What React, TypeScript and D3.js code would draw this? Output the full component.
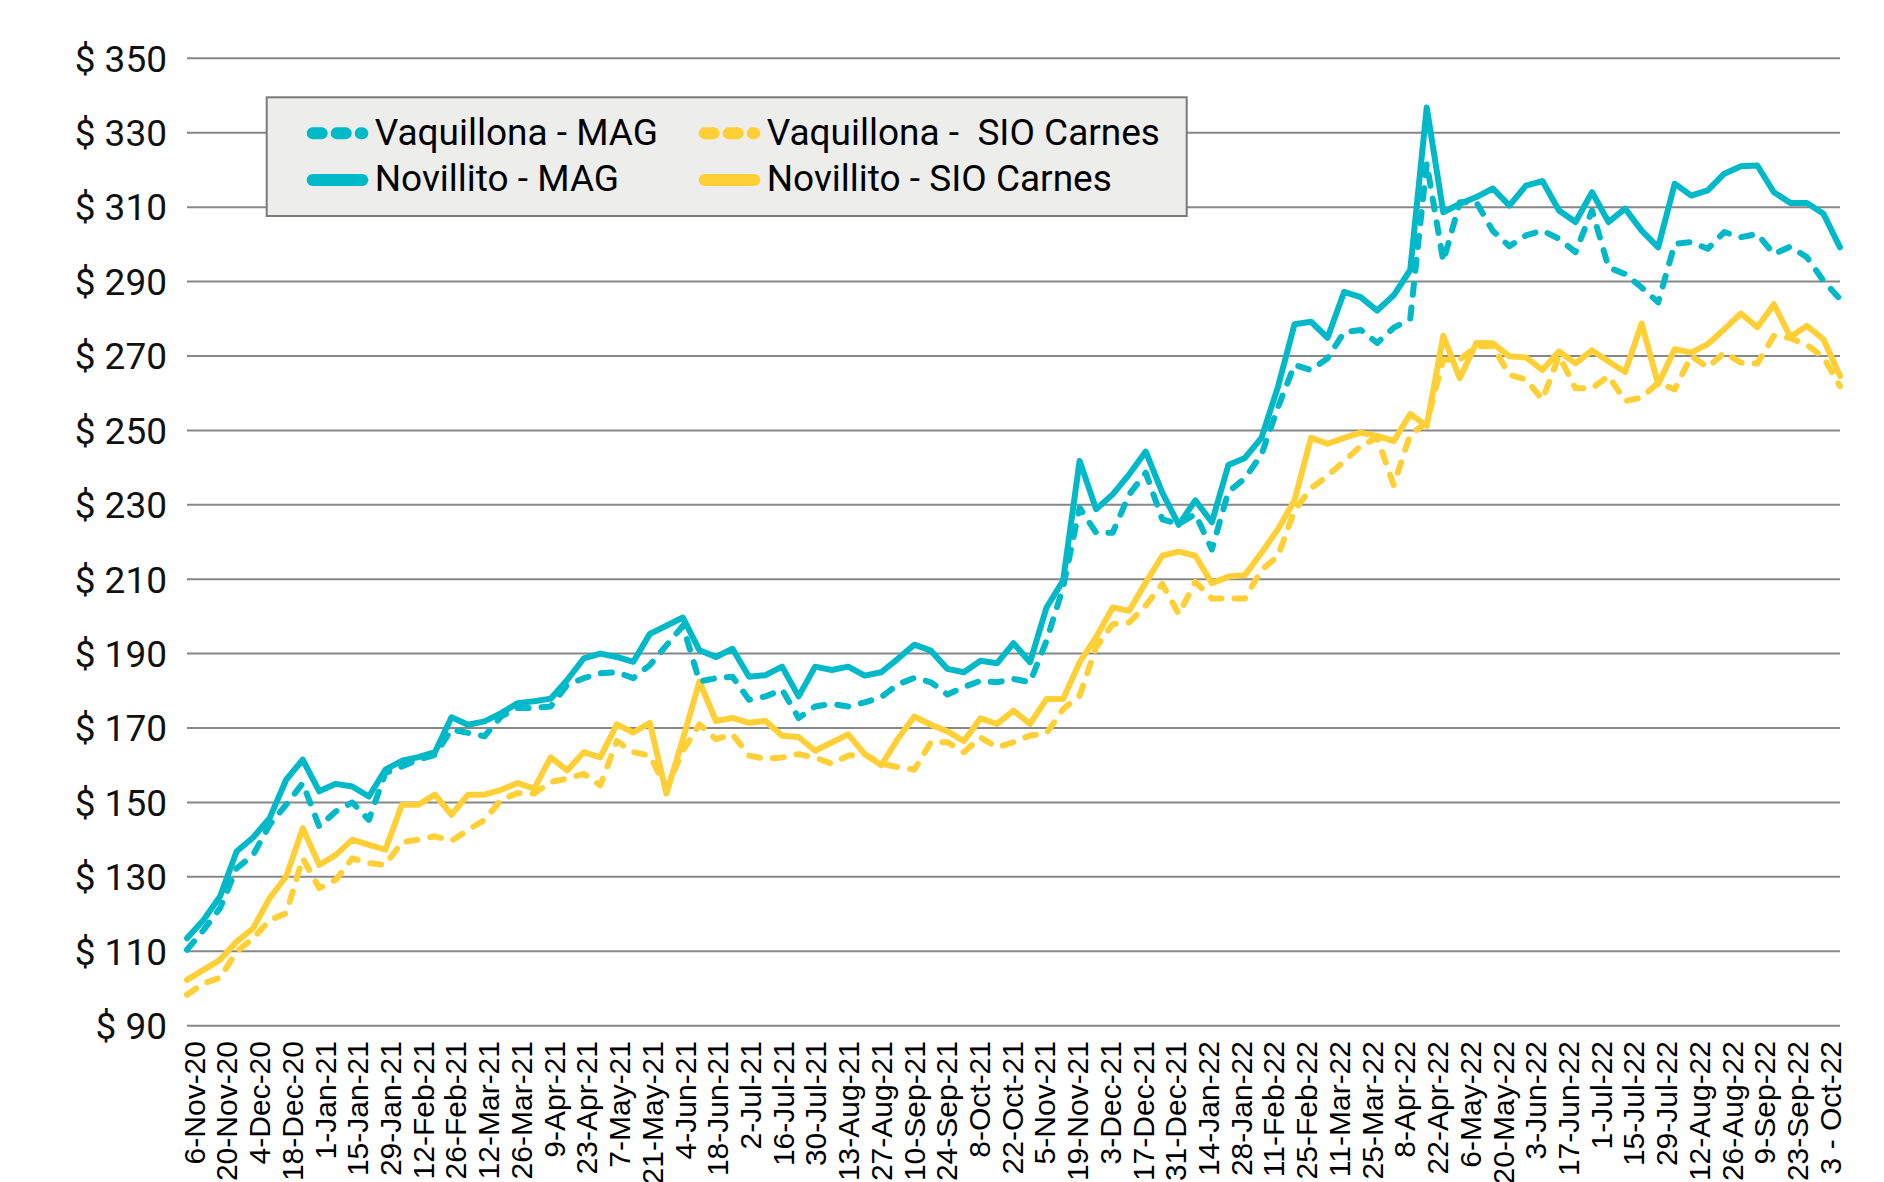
import React from "react";
import * as d3 from "d3";

const tickLabels = [
  "6-Nov-20","20-Nov-20","4-Dec-20","18-Dec-20","1-Jan-21","15-Jan-21","29-Jan-21","12-Feb-21","26-Feb-21","12-Mar-21",
  "26-Mar-21","9-Apr-21","23-Apr-21","7-May-21","21-May-21","4-Jun-21","18-Jun-21","2-Jul-21","16-Jul-21","30-Jul-21",
  "13-Aug-21","27-Aug-21","10-Sep-21","24-Sep-21","8-Oct-21","22-Oct-21","5-Nov-21","19-Nov-21","3-Dec-21","17-Dec-21",
  "31-Dec-21","14-Jan-22","28-Jan-22","11-Feb-22","25-Feb-22","11-Mar-22","25-Mar-22","8-Apr-22","22-Apr-22","6-May-22",
  "20-May-22","3-Jun-22","17-Jun-22","1-Jul-22","15-Jul-22","29-Jul-22","12-Aug-22","26-Aug-22","9-Sep-22","23-Sep-22",
  "3 - Oct-22"
];

const yTicks = [90, 110, 130, 150, 170, 190, 210, 230, 250, 270, 290, 310, 330, 350];

const novilloMag = [
  113.5, 118.4, 124.7, 136.8, 140.6, 145.8, 156.1, 161.5, 153.0, 155.0, 154.3, 151.6, 158.8, 161.2, 162.2, 163.5, 172.9, 170.9, 171.8, 174.0, 176.7,
  177.2, 177.9, 182.9, 188.7, 190.0, 189.1, 187.8, 195.3, 197.5, 199.7, 190.9, 189.1, 191.3, 183.8, 184.2, 186.5, 178.5, 186.5, 185.6, 186.5,
  184.1, 185.0, 188.6, 192.4, 190.8, 185.9, 185.0, 188.1, 187.4, 192.8, 187.7, 202.4, 209.6, 241.8, 228.8, 232.8, 238.2, 244.3, 233.3, 224.6,
  231.2, 225.3, 240.7, 242.6, 248.0, 261.7, 278.5, 279.2, 274.9, 287.2, 285.8, 282.2, 286.3, 293.1, 336.8, 308.6, 310.9, 312.7, 315.0, 310.4,
  315.8, 317.0, 309.1, 306.0, 314.0, 306.0, 309.6, 303.7, 299.2, 316.3, 313.1, 314.5, 319.0, 321.0, 321.2, 314.0, 311.1, 311.1, 308.2, 299.2
];

const vaquillonaMag = [
  110.4, 115.7, 121.6, 132.3, 135.9, 144.0, 149.4, 155.2, 143.5, 147.6, 150.0, 145.3, 157.9, 159.7, 161.5, 162.8, 169.6, 168.7, 167.8, 173.1, 175.4,
  175.4, 175.8, 181.6, 183.4, 184.7, 185.0, 183.4, 186.9, 192.2, 197.5, 182.5, 183.4, 183.8, 177.6, 178.5, 180.3, 172.7, 175.8, 176.5, 175.8,
  176.9, 178.3, 181.7, 183.5, 182.3, 179.0, 181.0, 182.7, 182.3, 183.2, 182.3, 193.5, 207.8, 229.2, 222.5, 222.5, 232.8, 238.6, 226.1, 224.8,
  227.5, 218.0, 233.5, 237.1, 243.5, 256.2, 267.6, 266.2, 269.4, 276.4, 277.0, 273.5, 277.6, 279.9, 321.8, 295.4, 311.3, 311.3, 303.6, 299.5,
  302.4, 303.7, 301.5, 297.9, 309.1, 293.8, 292.0, 288.4, 284.4, 300.1, 300.6, 298.8, 303.3, 301.9, 302.8, 297.4, 299.4, 296.5, 290.2, 285.3
];

const novilloSio = [
  102.3, 105.0, 107.7, 112.6, 116.2, 124.3, 130.1, 143.1, 133.2, 135.9, 140.0, 138.6, 137.3, 149.4, 149.4, 152.1, 146.7, 152.1, 152.1, 153.4, 155.2,
  153.7, 162.1, 158.6, 163.5, 162.1, 171.0, 168.8, 171.4, 152.4, 167.0, 182.5, 171.9, 172.7, 171.4, 171.9, 167.9, 167.6, 163.9, 166.1, 168.3,
  163.0, 160.0, 167.1, 173.1, 170.9, 169.1, 166.5, 172.6, 171.1, 174.7, 171.1, 177.8, 177.8, 187.7, 194.4, 202.4, 201.5, 209.1, 216.3, 217.4,
  216.3, 208.9, 210.7, 211.1, 217.1, 223.4, 231.2, 248.0, 246.4, 248.0, 249.4, 248.5, 247.1, 254.4, 251.2, 275.4, 264.0, 273.5, 273.4, 269.9,
  269.6, 266.2, 271.2, 268.0, 271.5, 268.5, 265.7, 278.7, 262.4, 271.8, 270.9, 273.2, 277.2, 281.4, 277.7, 283.9, 275.1, 278.1, 274.5, 264.6
];

const vaquillonaSio = [
  98.3, 101.4, 102.9, 109.9, 113.5, 118.4, 120.2, 135.0, 127.0, 129.2, 135.0, 133.7, 133.2, 139.3, 140.0, 140.9, 139.7, 142.6, 145.3, 150.7, 152.5,
  152.4, 155.5, 156.4, 157.7, 154.6, 166.5, 163.5, 162.6, 153.7, 163.9, 171.0, 167.0, 168.3, 162.6, 161.7, 162.1, 163.0, 162.1, 160.4, 162.6,
  162.9, 160.4, 159.5, 158.8, 166.2, 166.2, 163.5, 167.5, 164.8, 166.2, 168.0, 168.6, 175.1, 178.7, 191.7, 197.9, 198.4, 202.9, 208.7, 200.6,
  209.3, 204.8, 204.8, 204.8, 212.5, 216.2, 228.5, 234.4, 237.8, 241.7, 245.8, 248.0, 235.3, 248.9, 252.1, 269.0, 269.0, 272.6, 272.6, 264.9,
  263.7, 258.3, 270.0, 261.3, 261.3, 264.6, 257.9, 258.8, 262.8, 261.0, 270.0, 266.9, 270.9, 268.2, 268.0, 275.4, 274.8, 273.0, 269.6, 261.9
];

const TEAL = "#00B9C8";
const YELLOW = "#FFD036";

const seriesList = [
  { name: "Novillito - MAG", values: novilloMag, color: TEAL, dashed: false },
  { name: "Novillito - SIO Carnes", values: novilloSio, color: YELLOW, dashed: false },
  { name: "Vaquillona - MAG", values: vaquillonaMag, color: TEAL, dashed: true },
  { name: "Vaquillona -  SIO Carnes", values: vaquillonaSio, color: YELLOW, dashed: true },
];

const legendItems = [
  { name: "Vaquillona - MAG", color: TEAL, dashed: true, col: 0, row: 0 },
  { name: "Vaquillona -  SIO Carnes", color: YELLOW, dashed: true, col: 1, row: 0 },
  { name: "Novillito - MAG", color: TEAL, dashed: false, col: 0, row: 1 },
  { name: "Novillito - SIO Carnes", color: YELLOW, dashed: false, col: 1, row: 1 },
];

const W = 1884;
const H = 1182;

export default function App() {
  const n = novilloMag.length;
  const x = d3.scaleLinear().domain([0, n - 1]).range([187, 1840]);
  const y = d3.scaleLinear().domain([90, 350]).range([1025.7, 58.3]);
  const labelX = d3.scaleLinear().domain([0, tickLabels.length - 1]).range([194, 1830]);

  const line = d3
    .line<number>()
    .x((_, i) => x(i))
    .y((d) => y(d));

  const legendColX = [306.7, 698.7];
  const legendRowY = [133.3, 180];
  const legendTextY = [145, 190.5];

  return (
    <svg
      width={W}
      height={H}
      style={{ position: "absolute", left: 0, top: 0, display: "block", background: "#ffffff" }}
    >
      <rect x={0} y={0} width={W} height={H} fill="#ffffff" />
      {yTicks.map((t) => (
        <g key={t}>
          <line x1={187} x2={1840} y1={y(t)} y2={y(t)} stroke="#878787" strokeWidth={2} />
          <text
            x={167}
            y={y(t)}
            dy="0.36em"
            textAnchor="end"
            fontFamily="Roboto"
            fontSize={37}
            fill="#111"
          >
            {`$ ${t}`}
          </text>
        </g>
      ))}
      {tickLabels.map((lab, j) => (
        <text
          key={lab}
          transform={`translate(${labelX(j) + 10.7},1041) rotate(-90)`}
          textAnchor="end"
          fontFamily="Liberation Sans, Arial"
          fontSize={30}
          fill="#000"
          style={{ whiteSpace: "pre" }}
        >
          {lab}
        </text>
      ))}
      {seriesList.map((s) => (
        <path
          key={s.name}
          d={line(s.values) || ""}
          fill="none"
          stroke={s.color}
          strokeWidth={6}
          strokeLinejoin="round"
          strokeLinecap="round"
          strokeDasharray={s.dashed ? "11 13" : undefined}
        />
      ))}
      <g>
        <rect x={266.7} y={97.3} width={920} height={118.7} fill="#EDEDEB" stroke="#7A7A7A" strokeWidth={2} />
        {legendItems.map((it) => (
          <g key={it.name}>
            <line
              x1={legendColX[it.col] + 6}
              x2={legendColX[it.col] + 55.6}
              y1={legendRowY[it.row]}
              y2={legendRowY[it.row]}
              stroke={it.color}
              strokeWidth={12}
              strokeLinecap="round"
              strokeDasharray={it.dashed ? "9 15" : undefined}
            />
            <text
              x={legendColX[it.col] + 68}
              y={legendTextY[it.row]}
              fontFamily="Roboto"
              fontSize={37}
              fill="#000"
              style={{ whiteSpace: "pre" }}
            >
              {it.name}
            </text>
          </g>
        ))}
      </g>
    </svg>
  );
}
